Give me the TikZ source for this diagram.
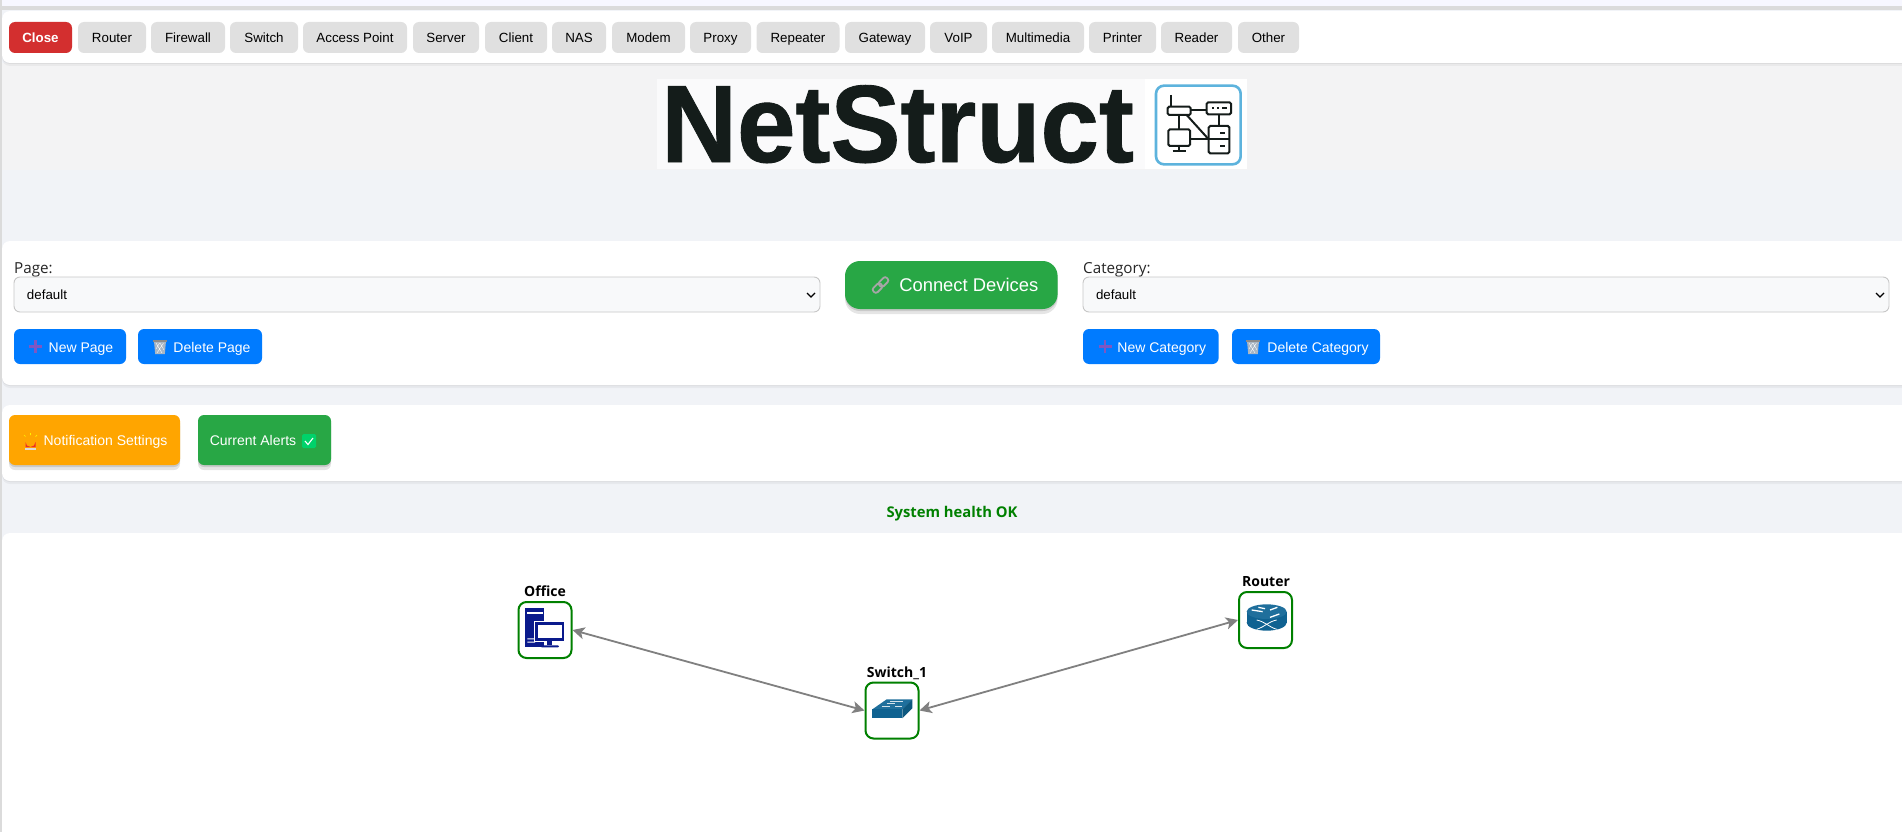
\documentclass[tikz,border=0pt]{standalone}
\usepackage{fontspec}
\setmainfont{Liberation Sans}
\newfontfamily\labelfont{Open Sans}
\newfontfamily\logofont[FakeBold=.8]{Liberation Sans Bold}
\usetikzlibrary{arrows.meta,shadows}

\definecolor{pagebg}{HTML}{F1F3F7}
\definecolor{logobg}{HTML}{F3F3F4}
\definecolor{toolgray}{HTML}{E0E0E0}
\definecolor{closered}{HTML}{D32F2F}
\definecolor{btnblue}{HTML}{007BFF}
\definecolor{btngreen}{HTML}{28A745}
\definecolor{btnorange}{HTML}{FFA500}
\definecolor{okgreen}{HTML}{008000}
\definecolor{navyicon}{HTML}{0A1A8C}
\definecolor{ciscoblue}{HTML}{0F6291}
\definecolor{ciscotop}{HTML}{1F6F9C}
\definecolor{ciscoside}{HTML}{0E587F}
\definecolor{iconblue}{HTML}{5DB3DD}
\definecolor{inkblack}{HTML}{141C1A}
\definecolor{trashgray}{HTML}{A9B6C4}
\definecolor{plusviolet}{HTML}{7E57C2}
\definecolor{checkgreen}{HTML}{00D26A}
\definecolor{alarmred}{HTML}{F02A2A}
\definecolor{selectfill}{HTML}{F8F9FA}

\tikzset{
    softshadow/.style={
        general shadow={shadow xshift=0pt, shadow yshift=-1pt, opacity=.05, fill=black},
        general shadow={shadow xshift=0pt, shadow yshift=-3pt, opacity=.04, fill=black}},
    liftshadow/.style={
        general shadow={shadow xshift=0pt, shadow yshift=-2pt, opacity=.12, fill=black},
        general shadow={shadow xshift=0pt, shadow yshift=-5pt, opacity=.10, fill=black}},
    panel/.style={fill=white, rounded corners=8pt, inner sep=0pt, minimum height=#1, minimum width=1920pt, softshadow},
    toolbtn/.style={fill=toolgray, rounded corners=6pt, inner sep=0pt, minimum height=31pt, minimum width=#1,
        text height=11pt, text depth=0pt, font=\fontsize{13.33}{16}\selectfont},
    actionbtn/.style={fill=btnblue, text=white, rounded corners=6pt, inner sep=0pt, minimum height=35pt, minimum width=#1,
        text height=11pt, text depth=0pt, font=\fontsize{14}{17}\selectfont},
    raisedbtn/.style={text=white, rounded corners=6pt, inner sep=0pt, minimum width=#1,
        text height=11pt, text depth=0pt, font=\fontsize{14}{17}\selectfont, liftshadow},
    selectbox/.style={draw=black!22, line width=.9pt, fill=selectfill, rounded corners=6pt, minimum height=35pt, inner ysep=0pt, inner xsep=13pt,
        text width=780pt, text height=10pt, text depth=1pt, font=\fontsize{13.33}{16}\selectfont},
    fieldlabel/.style={anchor=base west, inner sep=0pt, text=black!85, font=\labelfont\fontsize{15.2}{18}\selectfont},
    device/.style={draw=okgreen, line width=2pt, rounded corners=8pt, inner sep=0pt, minimum width=53pt, minimum height=56pt},
    devicelabel/.style={inner sep=0pt, font=\labelfont\bfseries\fontsize{14}{17}\selectfont},
    link/.style={draw=black!50, line width=1.8pt, {Stealth[length=12pt,width=12pt,inset=3pt]}-{Stealth[length=12pt,width=12pt,inset=3pt]}},
    logoline/.style={draw=inkblack, line width=2pt, rounded corners=1.5pt},
}

\newcommand{\plusicon}[1]{
    \fill[plusviolet] ([xshift=-6.5pt,yshift=1.2pt]#1) rectangle ([xshift=6.5pt,yshift=-1.2pt]#1);
    \fill[plusviolet] ([xshift=-1.2pt,yshift=6.5pt]#1) rectangle ([xshift=1.2pt,yshift=-6.5pt]#1);
}
\newcommand{\trashicon}[1]{
    \begin{scope}[shift={#1}]
        \fill[trashgray] (-6,-6) -- (6,-6) -- (4.8,7) -- (-4.8,7) -- cycle;
        \fill[black!45] (-6.6,-7) rectangle (6.6,-5);
        \draw[white, line width=.35pt] (-4,-4) -- (2,6) (0,-4) -- (4,3) (3.5,-4) -- (-3,6) (-.5,-4) -- (-4,2);
    \end{scope}
}

\begin{document}
\begin{tikzpicture}[x=1pt,y=-1pt]
    \useasboundingbox (0,0) rectangle (1902,832);

    \fill[pagebg] (0,0) rectangle (1902,832);
    \fill[logobg] (0,63) rectangle (1902,170);
    \fill[blue!3!white] (0,0) rectangle (1902,6);
    \fill[black!14] (0,6) rectangle (1902,10);
    \fill[black!14] (0,0) rectangle (2,832);

    \node[panel=52pt] (toolbar) at (962,37) {};
    \node[panel=144pt] (pagepanel) at (962,313) {};
    \node[panel=76pt] (alertpanel) at (962,443) {};
    \node[panel=320pt] (canvas) at (962,693) {};

    \node[toolbtn=63pt, fill=closered, text=white, font=\bfseries\fontsize{13.33}{16}\selectfont] (close) at (40.5,37.5) {Close};
    \node[toolbtn=68pt] (router) at (112,37.5) {Router};
    \node[toolbtn=74pt] (firewall) at (188,37.5) {Firewall};
    \node[toolbtn=68pt] (switch) at (264,37.5) {Switch};
    \node[toolbtn=104pt] (accesspoint) at (355,37.5) {Access Point};
    \node[toolbtn=66pt] (server) at (446,37.5) {Server};
    \node[toolbtn=62pt] (client) at (516,37.5) {Client};
    \node[toolbtn=54pt] (nas) at (579,37.5) {NAS};
    \node[toolbtn=73pt] (modem) at (648.5,37.5) {Modem};
    \node[toolbtn=61pt] (proxy) at (720.5,37.5) {Proxy};
    \node[toolbtn=83pt] (repeater) at (798,37.5) {Repeater};
    \node[toolbtn=80pt] (gateway) at (885,37.5) {Gateway};
    \node[toolbtn=57pt] (voip) at (958.5,37.5) {VoIP};
    \node[toolbtn=92pt] (multimedia) at (1038,37.5) {Multimedia};
    \node[toolbtn=67pt] (printer) at (1122.5,37.5) {Printer};
    \node[toolbtn=71pt] (reader) at (1196.5,37.5) {Reader};
    \node[toolbtn=61pt] (other) at (1268.5,37.5) {Other};

    \fill[logobg!40!white] (657,79) rectangle (1145,169);
    \fill[white] (1145,79) rectangle (1247,169);
    \node[anchor=base west, inner sep=0pt, xscale=.955, text=inkblack, font=\logofont\fontsize{110}{110}\selectfont] (logotext) at (661,162) {NetStruct};
    \begin{scope}[shift={(1140,70)},scale=.33333]
        \draw[iconblue, line width=2.6pt, rounded corners=8pt] (48,47) rectangle (302,283);
        \draw[logoline] (93,75) -- (93,110);
        \draw[logoline] (83,110) rectangle (152,135);
        \draw[logoline] (152,120) -- (200,120);
        \draw[logoline] (200,97) rectangle (273,133);
        \draw[logoline] (237,133) -- (237,168);
        \draw[logoline] (206,168) rectangle (268,250);
        \draw[logoline] (206,208) -- (268,208);
        \draw[logoline] (240,190) -- (255,190) (240,228) -- (255,228);
        \draw[logoline] (217,115) -- (222,115) (232,115) -- (237,115) (247,115) -- (262,115);
        \draw[logoline] (117,135) -- (117,178);
        \draw[logoline] (85,178) rectangle (150,228);
        \draw[logoline] (117,228) -- (117,242) (98,242) -- (138,242);
        \draw[logoline] (150,208) -- (206,208);
        \draw[logoline] (140,135) -- (206,208);
    \end{scope}

    \node[fieldlabel] (pagelabel) at (14,273) {Page:};
    \node[selectbox] (pageselect) at (417,294.5) {default};
    \draw[black, line width=1.3pt] (807,293) -- (811,297) -- (815,293);
    \node[actionbtn=112pt] (newpage) at (70,346.5) {\hspace*{22pt}New Page};
    \node[actionbtn=124pt] (deletepage) at (200,346.5) {\hspace*{24pt}Delete Page};
    \plusicon{35.5,346.5}
    \trashicon{(160,347)}

    \node[raisedbtn=212.6pt, fill=btngreen, rounded corners=15pt, minimum height=48pt, text height=12.5pt, font=\fontsize{18.4}{22}\selectfont] (connect) at (951.3,285) {\hspace*{35pt}Connect Devices};
    \begin{scope}[shift={(880.5,285)},rotate=45]
        \draw[black!35, line width=1.8pt, rounded corners=2.5pt] (-9.5,-3) rectangle (1,3);
        \draw[black!35, line width=1.8pt, rounded corners=2.5pt] (-1,-3) rectangle (9.5,3);
    \end{scope}

    \node[fieldlabel] (categorylabel) at (1083,273) {Category:};
    \node[selectbox] (categoryselect) at (1486,294.5) {default};
    \draw[black, line width=1.3pt] (1876,293) -- (1880,297) -- (1884,293);
    \node[actionbtn=135.6pt] (newcategory) at (1150.8,346.5) {\hspace*{22pt}New Category};
    \node[actionbtn=148pt] (deletecategory) at (1306,346.5) {\hspace*{24pt}Delete Category};
    \plusicon{1105,346.5}
    \trashicon{(1253,347)}

    \node[raisedbtn=171pt, fill=btnorange, minimum height=50pt] (notification) at (94.5,440) {\hspace*{22pt}Notification Settings};
    \fill[alarmred] (25.5,447) -- (25.5,442) arc[start angle=180,end angle=0,radius=5] -- (35.5,447) -- cycle;
    \fill[white!85!black] (25,447.5) rectangle (36,450);
    \draw[yellow, line width=.7pt] (30.5,433) -- (30.5,435) (24,435) -- (25.5,436.5) (37,435) -- (35.5,436.5);

    \node[raisedbtn=133pt, fill=btngreen, minimum height=50pt] (alerts) at (264.5,440) {Current Alerts\hspace*{23pt}};
    \fill[checkgreen, rounded corners=1.5pt] (302,434) rectangle (316,448);
    \draw[white, line width=1.1pt] (305,441) -- (308,444.5) -- (313,438);

    \node[inner sep=0pt, text=okgreen, font=\labelfont\bfseries\fontsize{14.8}{17}\selectfont] (health) at (952,514) {System health OK};

    \node[device] (office) at (545,630) {};
    \node[device] (switch1) at (892,710.5) {};
    \node[device] (routerdev) at (1265.5,620) {};
    \node[devicelabel] (officetext) at (545,591) {Office};
    \node[devicelabel] (switchtext) at (897,673) {Switch\_1};
    \node[devicelabel] (routertext) at (1266,582) {Router};

    \draw[link] (office.east) -- (switch1.west);
    \draw[link] (switch1.east) -- (routerdev.west);

    \begin{scope}[shift={(500,570)},scale=.33333]
        \fill[navyicon] (75,115) rectangle (132,232);
        \fill[white] (82,127) rectangle (128,132);
        \fill[white] (82,205) rectangle (105,208) (82,215) rectangle (105,218);
        \fill[white] (101,152) rectangle (196,216);
        \fill[navyicon] (105,156) rectangle (192,212);
        \fill[white] (114,164) rectangle (185,204);
        \fill[navyicon] (142,212) rectangle (155,226);
        \fill[navyicon, rounded corners=1pt] (122,226) rectangle (177,232);
    \end{scope}

    \begin{scope}[shift={(840,650)},scale=.33333]
        \fill[ciscotop] (97,178) -- (140,148) -- (217,148) -- (187,178) -- cycle;
        \fill[ciscoblue] (97,178) rectangle (187,205);
        \fill[ciscoside] (187,178) -- (217,148) -- (217,175) -- (187,205) -- cycle;
        \draw[white!80!ciscotop, line width=.6pt] (125,170) -- (150,170) (140,160) -- (165,160) (150,155) -- (190,155) (165,168) -- (185,168);
    \end{scope}

    \begin{scope}[shift={(1220,560)},scale=.33333]
        \fill[ciscoblue] (140,188) ellipse [x radius=60, y radius=24];
        \fill[ciscoblue] (80,155) rectangle (200,188);
        \fill[ciscotop] (140,155) ellipse [x radius=60, y radius=22];
        \draw[white, line width=1.3pt] (95,150) -- (128,155) (150,150) -- (172,142) (150,172) -- (178,162) (115,142) -- (135,146);
        \draw[white, line width=.8pt] (110,208) .. controls (135,200) and (145,185) .. (170,180);
        \draw[white, line width=.8pt] (110,180) .. controls (135,185) and (145,200) .. (170,208);
    \end{scope}
\end{tikzpicture}
\end{document}
